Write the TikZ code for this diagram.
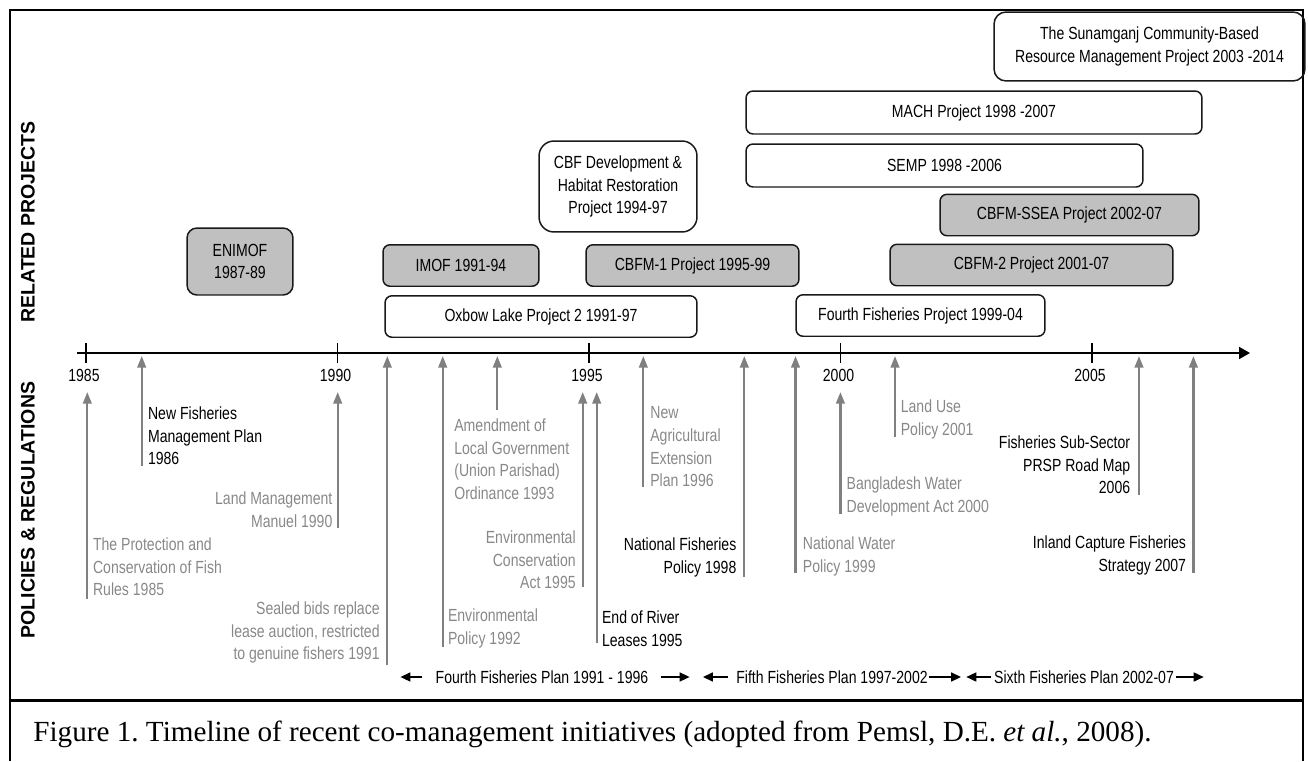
\documentclass[tikz,border=0pt]{standalone}
\usepackage{fontspec}
\setmainfont[FakeStretch=0.8]{Liberation Sans}
\newfontfamily\headfont{Liberation Sans}
\newfontfamily\capfont{Liberation Serif}
\usetikzlibrary{arrows.meta}
\definecolor{boxgray}{HTML}{C0C0C0}
\definecolor{arrgray}{HTML}{808080}
\definecolor{txtgray}{HTML}{888888}
\frenchspacing

\begin{document}
\begin{tikzpicture}[x=0.02cm,y=-0.02cm,
    every node/.style={font=\fontsize{10pt}{12.9pt}\selectfont, inner sep=0pt},
    proj/.style={draw=black!90, line width=0.85pt, rounded corners=0.14cm, align=center,
      minimum height=0.83cm},
    gproj/.style={proj, fill=boxgray},
    pol/.style={draw=arrgray, line width=1.3pt, -{Triangle[length=0.23cm,width=0.17cm]}},
    lnote/.style={align=left, anchor=north west},
    rnote/.style={align=right, anchor=north east},
    grey/.style={text=txtgray},
    plan/.style={line width=0.9pt, -{Triangle[length=0.2cm,width=0.18cm]}},
    head/.style={rotate=90, font=\headfont\bfseries\fontsize{11.1pt}{13pt}\selectfont}]
  \useasboundingbox (0,0) rectangle (1308,761);

  % frame and caption
  \draw[line width=1.1pt] (10,761) -- (10,10) -- (1303,10) -- (1303,761);
  \draw[line width=1.7pt] (10,700.5) -- (1303,700.5);
  \node[anchor=base west, font=\capfont\fontsize{16.6pt}{19pt}\selectfont] (caption) at (33,741)
    {Figure 1. Timeline of recent co-management initiatives (adopted from Pemsl, D.E. \textit{et al.}, 2008).};

  % side headings
  \node[head] (relproj) at (28,222) {RELATED PROJECTS};
  \node[head] (polreg) at (28,510) {POLICIES \& REGULATIONS};

  % time axis
  \coordinate (axstart) at (77,353);
  \coordinate (axend) at (1250,353);
  \draw[line width=1.1pt, -{Triangle[length=0.22cm,width=0.24cm]}] (axstart) -- (axend);
  \foreach \yr [count=\i from 0] in {1985,1990,1995,2000,2005} {
    \draw[line width=1pt] (86+251.5*\i,343) -- (86+251.5*\i,363);
    \node (y\yr) at (84+251.5*\i,375) {\yr};
  }

  % projects
  \node[gproj, rounded corners=0.2cm, minimum width=2.12cm, minimum height=1.34cm] (enimof) at (240,261.5) {ENIMOF\\1987-89};
  \node[gproj, minimum width=3.12cm] (imof) at (461,265.5) {IMOF 1991-94};
  \node[proj, rounded corners=0.3cm, minimum width=3.16cm, minimum height=1.82cm] (cbfdev) at (618,186.5)
    {CBF Development \&\\Habitat Restoration\\Project 1994-97};
  \node[gproj, minimum width=4.26cm] (cbfm1) at (692.5,265.5) {CBFM-1 Project 1995-99};
  \node[proj, minimum width=6.24cm] (oxbow) at (541,316.5) {Oxbow Lake Project 2 1991-97};
  \node[proj, minimum width=4.98cm] (fourthfp) at (920.5,315.5) {Fourth Fisheries Project 1999-04};
  \node[gproj, minimum width=5.66cm] (cbfm2) at (1031.5,265) {CBFM-2 Project 2001-07};
  \node[gproj, minimum width=5.18cm] (cbfmssea) at (1069.5,215) {CBFM-SSEA Project 2002-07};
  \node[proj, minimum width=7.94cm, minimum height=0.86cm] (semp) at (944.5,165.5) {SEMP 1998 -2006};
  \node[proj, minimum width=9.12cm, minimum height=0.86cm] (mach) at (974,112.5) {MACH Project 1998 -2007};
  \node[proj, rounded corners=0.24cm, minimum width=6.22cm, minimum height=1.38cm] (sunam) at (1149.5,46.5)
    {The Sunamganj Community-Based\\Resource Management Project 2003 -2014};

  % 1985
  \node[lnote, grey] (rules85) at (92.7,537.5) {The Protection and\\Conservation of Fish\\Rules 1985};
  \draw[pol] (87.3,599) coordinate (b85) -- (87.3,392) coordinate (t85);
  % 1986
  \node[lnote] (plan86) at (147.7,406.5) {New Fisheries\\Management Plan\\1986};
  \draw[pol] (141.7,466) coordinate (b86) -- (141.7,356) coordinate (t86);
  % 1990
  \node[rnote, grey] (land90) at (332.7,491.5) {Land Management\\Manuel 1990};
  \draw[pol] (337.7,528) coordinate (b90) -- (337.7,392) coordinate (t90);
  % 1991
  \node[rnote, grey] (bids91) at (380,601.5) {Sealed bids replace\\lease auction, restricted\\to genuine fishers 1991};
  \draw[pol] (387.3,665) coordinate (b91) -- (387.3,356) coordinate (t91);
  % 1992
  \node[lnote, grey] (env92) at (447.7,608.5) {Environmental\\Policy 1992};
  \draw[pol] (442.7,647) coordinate (b92) -- (442.7,356) coordinate (t92);
  % 1993
  \node[lnote, grey] (gov93) at (454,418.5) {Amendment of\\Local Government\\(Union Parishad)\\Ordinance 1993};
  \draw[pol] (497.3,410) coordinate (b93) -- (497.3,356) coordinate (t93);
  % 1995
  \node[rnote, grey] (cons95) at (576,530.5) {Environmental\\Conservation\\Act 1995};
  \draw[pol] (582.7,587) coordinate (b95a) -- (582.7,392) coordinate (t95a);
  \node[lnote] (river95) at (601.7,610.5) {End of River\\Leases 1995};
  \draw[pol] (596.7,643) coordinate (b95b) -- (596.7,392) coordinate (t95b);
  % 1996
  \node[lnote, grey] (agri96) at (650,406.5) {New\\Agricultural\\Extension\\Plan 1996};
  \draw[pol] (643.3,487) coordinate (b96) -- (643.3,356) coordinate (t96);
  % 1998
  \node[rnote] (nfp98) at (736.7,537.5) {National Fisheries\\Policy 1998};
  \draw[pol] (744.3,577) coordinate (b98) -- (744.3,356) coordinate (t98);
  % 1999
  \node[lnote, grey] (water99) at (802.6,536.5) {National Water\\Policy 1999};
  \draw[pol] (795.5,573) coordinate (b99) -- (795.5,356) coordinate (t99);
  % 2000
  \node[lnote, grey] (bwda00) at (846.3,476.5) {Bangladesh Water\\Development Act 2000};
  \draw[pol] (840.4,514) coordinate (b00) -- (840.4,392) coordinate (t00);
  % 2001
  \node[lnote, grey] (landuse01) at (900.5,399.5) {Land Use\\Policy 2001};
  \draw[pol] (895,437) coordinate (b01) -- (895,356) coordinate (t01);
  % 2006
  \node[rnote] (prsp06) at (1130.5,435.5) {Fisheries Sub-Sector\\PRSP Road Map\\2006};
  \draw[pol] (1139,495) coordinate (b06) -- (1139,356) coordinate (t06);
  % 2007
  \node[rnote] (icf07) at (1186.4,535.5) {Inland Capture Fisheries\\Strategy 2007};
  \draw[pol] (1193.4,573) coordinate (b07) -- (1193.4,356) coordinate (t07);

  % fisheries plans
  \node (plan4) at (542,677) {Fourth Fisheries Plan 1991 - 1996};
  \draw[plan] ([xshift=-0.26cm]plan4.west) -- ++(-22,0);
  \draw[plan] ([xshift=0.24cm]plan4.east) -- ++(29,0);
  \node (plan5) at (832,677) {Fifth Fisheries Plan 1997-2002};
  \draw[plan] ([xshift=-0.16cm]plan5.west) -- ++(-25,0);
  \draw[plan] ([xshift=0.02cm]plan5.east) -- ++(32,0);
  \node (plan6) at (1084,677) {Sixth Fisheries Plan 2002-07};
  \draw[plan] ([xshift=-0.05cm]plan6.west) -- ++(-25,0);
  \draw[plan] ([xshift=0.03cm]plan6.east) -- ++(28,0);
\end{tikzpicture}
\end{document}
